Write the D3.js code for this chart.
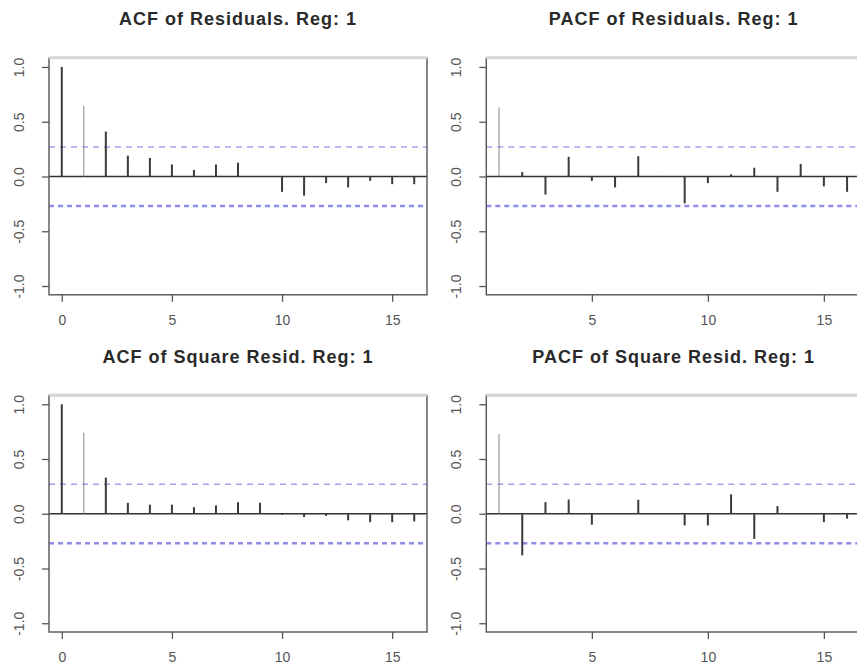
<!DOCTYPE html>
<html>
<head>
<meta charset="utf-8">
<script src="https://cdn.jsdelivr.net/npm/d3@7"></script>
<style>
  body { margin: 0; background: #fff; }
  svg { display: block; font-family: "Liberation Sans", Arial, sans-serif; }
</style>
</head>
<body>
<div id="chart"></div>
<script>
// lags
const acfLags = [0, 1, 2, 3, 4, 5, 6, 7, 8, 9, 10, 11, 12, 13, 14, 15, 16]
const pacfLags = [1, 2, 3, 4, 5, 6, 7, 8, 9, 10, 11, 12, 13, 14, 15, 16]

// values
const acfResid = [1.0, 0.645, 0.41, 0.19, 0.17, 0.11, 0.06, 0.11, 0.125, 0.0, -0.14, -0.175, -0.06, -0.10, -0.04, -0.07, -0.07]
const pacfResid = [0.63, 0.04, -0.165, 0.18, -0.04, -0.10, 0.185, 0.005, -0.245, -0.06, 0.02, 0.08, -0.14, 0.115, -0.09, -0.14]
const acfSquare = [1.0, 0.74, 0.33, 0.10, 0.083, 0.083, 0.06, 0.076, 0.106, 0.10, -0.01, -0.03, -0.02, -0.06, -0.077, -0.077, -0.07]
const pacfSquare = [0.73, -0.38, 0.106, 0.13, -0.10, 0.0, 0.128, 0.0, -0.107, -0.107, 0.177, -0.23, 0.07, 0.0, -0.077, -0.045]

const titles = ["ACF of Residuals. Reg: 1", "PACF of Residuals. Reg: 1",
                "ACF of Square Resid. Reg: 1", "PACF of Square Resid. Reg: 1"]
const acfTicks = [0, 5, 10, 15]
const pacfTicks = [5, 10, 15]
const yTicks = [-1, -0.5, 0, 0.5, 1]
const confLimit = 0.27

const width = 857, height = 666

const svg = d3.select("#chart")
  .append("svg")
  .attr("width", width)
  .attr("height", height)

// one entry per panel: which data, where the plot box sits
const panels = [
  { title: titles[0], lags: acfLags, vals: acfResid, ticks: acfTicks,
    xdom: [-0.58, 16.58], xr: [49, 427], yr: [294.8, 58.2], titleY: 25 },
  { title: titles[1], lags: pacfLags, vals: pacfResid, ticks: pacfTicks,
    xdom: [0.45, 16.6], xr: [486.3, 861], yr: [294.8, 58.2], titleY: 25 },
  { title: titles[2], lags: acfLags, vals: acfSquare, ticks: acfTicks,
    xdom: [-0.58, 16.58], xr: [49, 427], yr: [632, 395.5], titleY: 363 },
  { title: titles[3], lags: pacfLags, vals: pacfSquare, ticks: pacfTicks,
    xdom: [0.45, 16.6], xr: [486.3, 861], yr: [632, 395.5], titleY: 363 }
]

for (let p of panels) {
  const x = d3.scaleLinear().domain(p.xdom).range(p.xr)
  const y = d3.scaleLinear().domain([-1.08, 1.08]).range(p.yr)
  const g = svg.append("g")

  // title, centred over the plot box
  g.append("text")
    .attr("x", (p.xr[0] + p.xr[1]) / 2)
    .attr("y", p.titleY)
    .attr("text-anchor", "middle")
    .attr("font-size", 18)
    .attr("font-weight", "bold")
    .attr("letter-spacing", 1)
    .attr("fill", "#2a2a2a")
    .text(p.title)

  // confidence bands
  g.append("line")
    .attr("x1", p.xr[0]).attr("x2", p.xr[1])
    .attr("y1", y(confLimit)).attr("y2", y(confLimit))
    .attr("stroke", "#a2a2ea")
    .attr("stroke-width", 1.5)
    .attr("stroke-dasharray", "6,5")
  g.append("line")
    .attr("x1", p.xr[0]).attr("x2", p.xr[1])
    .attr("y1", y(-confLimit)).attr("y2", y(-confLimit))
    .attr("stroke", "#8e8ee8")
    .attr("stroke-width", 2.5)
    .attr("stroke-dasharray", "5,4")

  // zero line
  g.append("line")
    .attr("x1", p.xr[0]).attr("x2", p.xr[1])
    .attr("y1", y(0)).attr("y2", y(0))
    .attr("stroke", "#333")
    .attr("stroke-width", 1.3)

  // spikes
  const rows = p.lags.map((lag, i) => ({ lag: lag, v: p.vals[i] }))
  g.append("g")
    .selectAll("line")
    .data(rows)
    .join("line")
    .attr("x1", d => x(d.lag)).attr("x2", d => x(d.lag))
    .attr("y1", y(0)).attr("y2", d => y(d.v))
    .attr("stroke", d => d.lag === 1 ? "#888" : "#3a3a3a")
    .attr("stroke-width", d => d.lag === 1 ? 1 : 2)

  // box
  g.append("rect")
    .attr("x", p.xr[0]).attr("y", p.yr[1])
    .attr("width", p.xr[1] - p.xr[0]).attr("height", p.yr[0] - p.yr[1])
    .attr("fill", "none")
    .attr("stroke", "#555")
    .attr("stroke-width", 1.4)
  g.append("line")
    .attr("x1", p.xr[0]).attr("x2", p.xr[1])
    .attr("y1", p.yr[1] - 0.5).attr("y2", p.yr[1] - 0.5)
    .attr("stroke", "#d6d6d6")
    .attr("stroke-width", 3)

  // x axis
  const xa = g.append("g")
    .attr("transform", `translate(0,${p.yr[0]})`)
    .call(d3.axisBottom(x).tickValues(p.ticks).tickSize(7).tickSizeOuter(0).tickPadding(13))
  xa.select(".domain").remove()
  xa.selectAll("line").attr("stroke", "#555").attr("stroke-width", 1.3)
  xa.selectAll("text")
    .attr("font-size", 14)
    .attr("fill", "#555")
    .attr("font-family", "Liberation Sans, Arial, sans-serif")

  // y axis, labels turned like R does
  const ya = g.append("g")
    .attr("transform", `translate(${p.xr[0]},0)`)
    .call(d3.axisLeft(y).tickValues(yTicks).tickSize(7).tickFormat(d3.format(".1f")))
  ya.select(".domain").remove()
  ya.selectAll("line").attr("stroke", "#555").attr("stroke-width", 1.3)
  ya.selectAll("text")
    .attr("x", 0)
    .attr("dy", null)
    .attr("text-anchor", "middle")
    .attr("transform", "translate(-25,0) rotate(-90)")
    .attr("font-size", 14)
    .attr("fill", "#555")
    .attr("font-family", "Liberation Sans, Arial, sans-serif")
    .text(d => d3.format(".1f")(d).replace("−", "-"))
}
</script>
</body>
</html>
